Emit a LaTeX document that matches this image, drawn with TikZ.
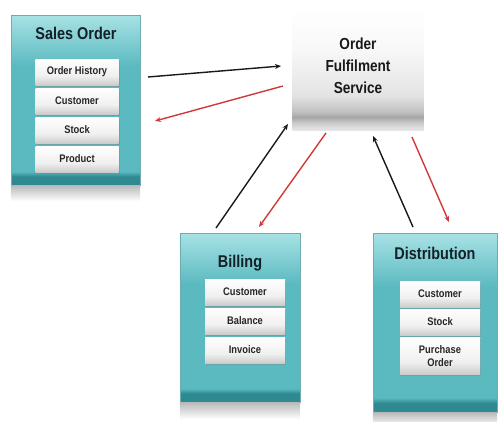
\documentclass[tikz,border=0pt]{standalone}
\usepackage{fontspec}
\setmainfont{Liberation Sans}
\newfontfamily\condfont[FakeStretch=0.85]{Liberation Sans}
\usetikzlibrary{arrows.meta,shadows}
\definecolor{tealL}{HTML}{A8E2E5}
\definecolor{tealM}{HTML}{5BBAC0}
\definecolor{tealD}{HTML}{2E8A90}
\definecolor{arrred}{HTML}{D23838}
\definecolor{txt}{HTML}{142028}
\pgfdeclareverticalshading{tealbox}{100bp}{color(0bp)=(tealD); color(25bp)=(tealD); color(27.5bp)=(tealD); color(29bp)=(tealM); color(60bp)=(tealM); color(75bp)=(tealL); color(100bp)=(tealL)}
\pgfdeclareverticalshading{servbox}{100bp}{color(0bp)=(gray!18); color(25bp)=(gray!18); color(28bp)=(gray!40); color(30.5bp)=(gray!70); color(32.5bp)=(gray!50); color(39bp)=(gray!22); color(57.5bp)=(gray!6); color(75bp)=(white); color(100bp)=(white)}
\pgfdeclareverticalshading{itembox}{100bp}{color(0bp)=(gray!40); color(25bp)=(gray!40); color(42.5bp)=(gray!12); color(75bp)=(white); color(100bp)=(white)}
\tikzset{
  tealcont/.style={shading=tealbox, draw=tealD!70, line width=0.4pt, inner sep=0pt},
  servcont/.style={shading=servbox, inner sep=0pt},
  boxtitle/.style={font=\condfont\bfseries\fontsize{17}{19}\selectfont, text=txt, inner sep=0pt},
  servtitle/.style={font=\condfont\bfseries\fontsize{16}{22}\selectfont, text=black!90, align=center, inner sep=0pt},
  itemnode/.style={shading=itembox, drop shadow={opacity=0.35, shadow xshift=1pt, shadow yshift=-1.5pt},
    minimum height=26pt, inner sep=0pt, align=center,
    font=\condfont\bfseries\fontsize{11}{12.5}\selectfont, text=black!85},
  shadowband/.style={top color=gray!55, bottom color=white},
  blkarrow/.style={draw=black!90, line width=1.4pt, -{Stealth[length=6pt,width=5pt]}},
  redarrow/.style={draw=arrred, line width=1.4pt, -{Stealth[length=6pt,width=5pt]}}
}
\begin{document}
\begin{tikzpicture}[x=1pt,y=-1pt]
\useasboundingbox (0,0) rectangle (498,421);

% Sales Order
\node[tealcont, minimum width=129pt, minimum height=170pt] (so) at (75.5,100) {};
\shade[shadowband] (so.south west) rectangle ([yshift=-16pt]so.south east);
\node[boxtitle] (sot) at (76,33) {Sales Order};
\node[itemnode, minimum width=83pt] (so1) at (77,72) {Order History};
\node[itemnode, minimum width=83pt] (so2) at (77,101) {Customer};
\node[itemnode, minimum width=83pt] (so3) at (77,130) {Stock};
\node[itemnode, minimum width=83pt] (so4) at (77,159) {Product};

% Order Fulfilment Service
\node[servcont, minimum width=131pt, minimum height=123pt] (ofs) at (358,69) {};
\node[servtitle] (ofst) at (358,66) {Order\\Fulfilment\\Service};

% Billing
\node[tealcont, minimum width=120pt, minimum height=169pt] (bil) at (240,317.5) {};
\shade[shadowband] (bil.south west) rectangle ([yshift=-17pt]bil.south east);
\node[boxtitle] (bilt) at (240,263) {Billing};
\node[itemnode, minimum width=80pt] (bil1) at (245,292) {Customer};
\node[itemnode, minimum width=80pt] (bil2) at (245,321) {Balance};
\node[itemnode, minimum width=80pt] (bil3) at (245,350) {Invoice};

% Distribution
\node[tealcont, minimum width=124pt, minimum height=179pt] (dis) at (435,322.5) {};
\shade[shadowband] (dis.south west) rectangle ([yshift=-14pt]dis.south east);
\node[boxtitle] (dist) at (435,253) {Distribution};
\node[itemnode, minimum width=80pt] (dis1) at (440,294) {Customer};
\node[itemnode, minimum width=80pt] (dis2) at (440,322) {Stock};
\node[itemnode, minimum width=80pt, minimum height=37pt] (dis3) at (440,356) {Purchase\\Order};

% connector ends
\coordinate (a1s) at (148,77);  \coordinate (a1e) at (281,66);
\coordinate (a2s) at (283,86);  \coordinate (a2e) at (155,121);
\coordinate (a3s) at (216,228); \coordinate (a3e) at (288,124);
\coordinate (a4s) at (326,133); \coordinate (a4e) at (259,227);
\coordinate (a5s) at (413,227); \coordinate (a5e) at (373,136);
\coordinate (a6s) at (412,137); \coordinate (a6e) at (449,222);

\draw[blkarrow] (a1s) -- (a1e);
\draw[redarrow] (a2s) -- (a2e);
\draw[blkarrow] (a3s) -- (a3e);
\draw[redarrow] (a4s) -- (a4e);
\draw[blkarrow] (a5s) -- (a5e);
\draw[redarrow] (a6s) -- (a6e);
\end{tikzpicture}
\end{document}
